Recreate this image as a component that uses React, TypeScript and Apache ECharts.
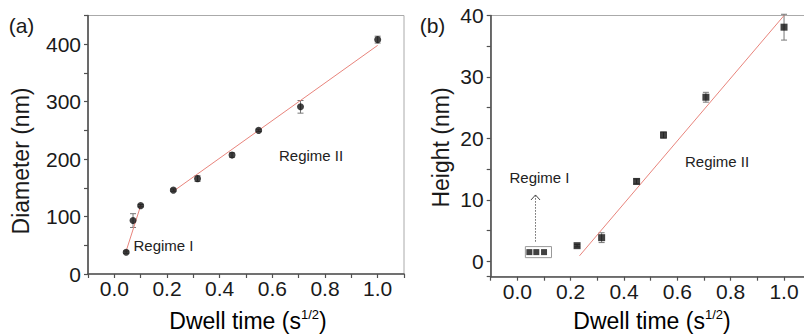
import React, { useEffect, useRef } from "react";
import * as echarts from "echarts";

// ---- data ----
const dwellA = [0.045, 0.071, 0.1, 0.224, 0.316, 0.447, 0.548, 0.707, 1.0];
const diameter = [38, 93, 119, 146, 166, 207, 250, 291, 408];
const diameterErr = [2, 12, 2, 2, 5, 4, 2, 11, 6];

const dwellB1 = [0.045, 0.071, 0.1];
const heightB1 = [1.5, 1.5, 1.5];

const dwellB2 = [0.224, 0.316, 0.447, 0.548, 0.707, 1.0];
const heightB2 = [2.55, 3.85, 13.0, 20.55, 26.7, 38.1];
const heightB2Err = [0.2, 0.8, 0.4, 0.5, 0.8, 2.1];

const fitA1 = [[0.045, 40], [0.1, 119]];
const fitA2 = [[0.224, 144], [1.0, 398]];
const fitB = [[0.233, 0.9], [1.0, 40]];

const xTickLabels = ["0.0", "0.2", "0.4", "0.6", "0.8", "1.0"];
const yTickLabelsA = ["0", "100", "200", "300", "400"];
const yTickLabelsB = ["0", "10", "20", "30", "40"];

const arrowB = [[0.068, 3.2, 10.8]];
const boxB = [[0.03, 2.4], [0.128, 0.6]];

const FONT = "Liberation Sans, Arial, sans-serif";
const AXIS_COLOR = "#505050";
const TEXT_COLOR = "#1a1a1a";
const FIT_COLOR = "#e8847c";

function xLabel(v: number) {
  const k = Math.round(v * 10);
  if (k < 0 || k % 2 !== 0) return "";
  const s = (k / 10).toFixed(1);
  return xTickLabels.includes(s) ? s : "";
}

function yLabelA(v: number) {
  const s = String(Math.round(v));
  return Math.round(v) % 100 === 0 && yTickLabelsA.includes(s) ? s : "";
}
function yLabelB(v: number) {
  const r = Math.round(v * 100) / 100;
  const s = String(r);
  return Number.isInteger(r) && r % 10 === 0 && yTickLabelsB.includes(s) ? s : "";
}

function errRender(params: any, api: any) {
  const x = api.value(0);
  const lo = api.value(1);
  const hi = api.value(2);
  const p1 = api.coord([x, hi]);
  const p2 = api.coord([x, lo]);
  const w = 3;
  const st = { stroke: "#777", lineWidth: 1 };
  return {
    type: "group",
    children: [
      { type: "line", shape: { x1: p1[0], y1: p1[1], x2: p2[0], y2: p2[1] }, style: st },
      { type: "line", shape: { x1: p1[0] - w, y1: p1[1], x2: p1[0] + w, y2: p1[1] }, style: st },
      { type: "line", shape: { x1: p2[0] - w, y1: p2[1], x2: p2[0] + w, y2: p2[1] }, style: st },
    ],
  };
}

function arrowRender(params: any, api: any) {
  const x = api.value(0);
  const p0 = api.coord([x, api.value(1)]);
  const p1 = api.coord([x, api.value(2)]);
  return {
    type: "group",
    children: [
      {
        type: "line",
        shape: { x1: p0[0], y1: p0[1], x2: p1[0], y2: p1[1] },
        style: { stroke: "#666", lineWidth: 1, lineDash: [1.5, 1.5] },
      },
      {
        type: "polyline",
        shape: { points: [[p1[0] - 4.5, p1[1] + 5], [p1[0], p1[1]], [p1[0] + 4.5, p1[1] + 5]] },
        style: { stroke: "#444", lineWidth: 1, fill: "none" },
      },
    ],
  };
}

function xAxisCfg(gridIndex: number) {
  return {
    type: "value",
    gridIndex,
    min: -0.1,
    max: 1.1,
    interval: 0.1,
    axisLine: { show: true, onZero: false, lineStyle: { color: AXIS_COLOR, width: 1.6 } },
    axisTick: { show: true, inside: false, length: 4, lineStyle: { color: AXIS_COLOR, width: 1.2 } },
    splitLine: { show: false },
    axisLabel: {
      formatter: xLabel,
      fontSize: 21,
      fontFamily: FONT,
      color: TEXT_COLOR,
      margin: 4,
      showMinLabel: true,
      showMaxLabel: true,
    },
  };
}

export default function App() {
  const ref = useRef<HTMLDivElement>(null);
  useEffect(() => {
    document.body.style.margin = "0";
    if (!ref.current) return;
    const chart = echarts.init(ref.current, undefined, { renderer: "svg" });
    const titleStyle = { fontSize: 23, fontFamily: FONT, fill: TEXT_COLOR };
    const xTitle = (cx: number) => ({
      type: "text",
      x: cx,
      y: 321,
      style: {
        text: "{n|Dwell time (s}{sup|1/2}{n|)}",
        align: "center",
        verticalAlign: "middle",
        rich: {
          n: { fontSize: 23, fontFamily: FONT, color: TEXT_COLOR, lineHeight: 26, verticalAlign: "middle" },
          sup: { fontSize: 13, fontFamily: FONT, color: TEXT_COLOR, lineHeight: 13, verticalAlign: "top" },
        },
      },
    });
    const regime = (x: number, y: number, t: string) => ({
      type: "text",
      x,
      y,
      style: { text: t, fontSize: 15, fontFamily: FONT, fill: "#222", align: "left", verticalAlign: "middle" },
    });
    chart.setOption({
      animation: false,
      grid: [
        { left: 88, top: 15.5, width: 316, height: 258.5, show: true, borderColor: "#aaa", borderWidth: 1, backgroundColor: "transparent", containLabel: false, outerBoundsMode: "none" },
        { left: 490.7, top: 15.5, width: 320, height: 261.2, show: true, borderColor: "#aaa", borderWidth: 1, backgroundColor: "transparent", containLabel: false, outerBoundsMode: "none" },
      ],
      xAxis: [xAxisCfg(0), xAxisCfg(1)],
      yAxis: [
        {
          type: "value",
          gridIndex: 0,
          min: 0,
          max: 450,
          interval: 50,
          axisLine: { show: true, onZero: false, lineStyle: { color: AXIS_COLOR, width: 1.6 } },
          axisTick: { show: true, inside: false, length: 4, lineStyle: { color: AXIS_COLOR, width: 1.2 } },
          splitLine: { show: false },
          axisLabel: { formatter: yLabelA, fontSize: 21, fontFamily: FONT, color: TEXT_COLOR, margin: 7 },
        },
        {
          type: "value",
          gridIndex: 1,
          min: -2.5,
          max: 40,
          splitNumber: 9,
          axisLine: { show: true, onZero: false, lineStyle: { color: AXIS_COLOR, width: 1.6 } },
          axisTick: { show: true, inside: false, length: 4, lineStyle: { color: AXIS_COLOR, width: 1.2 } },
          splitLine: { show: false },
          axisLabel: { formatter: yLabelB, fontSize: 21, fontFamily: FONT, color: TEXT_COLOR, margin: 7 },
        },
      ],
      series: [
        {
          type: "custom",
          xAxisIndex: 0,
          yAxisIndex: 0,
          renderItem: errRender,
          encode: { x: 0, y: [1, 2] },
          z: 1,
          data: dwellA.map((x, i) => [x, diameter[i] - diameterErr[i], diameter[i] + diameterErr[i]]),
        },
        {
          type: "line",
          xAxisIndex: 0,
          yAxisIndex: 0,
          data: fitA1,
          symbol: "none",
          lineStyle: { color: FIT_COLOR, width: 1 },
          z: 2,
        },
        {
          type: "line",
          xAxisIndex: 0,
          yAxisIndex: 0,
          data: fitA2,
          symbol: "none",
          lineStyle: { color: FIT_COLOR, width: 1 },
          z: 2,
        },
        {
          type: "scatter",
          xAxisIndex: 0,
          yAxisIndex: 0,
          symbol: "circle",
          symbolSize: 7,
          itemStyle: { color: "#111" },
          data: dwellA.map((x, i) => [x, diameter[i]]),
          z: 3,
        },
        {
          type: "custom",
          xAxisIndex: 1,
          yAxisIndex: 1,
          renderItem: errRender,
          encode: { x: 0, y: [1, 2] },
          z: 1,
          data: dwellB2.map((x, i) => [x, heightB2[i] - heightB2Err[i], heightB2[i] + heightB2Err[i]]),
        },
        {
          type: "line",
          xAxisIndex: 1,
          yAxisIndex: 1,
          data: fitB,
          symbol: "none",
          lineStyle: { color: FIT_COLOR, width: 1 },
          z: 2,
        },
        {
          type: "scatter",
          xAxisIndex: 1,
          yAxisIndex: 1,
          symbol: "rect",
          symbolSize: 7,
          itemStyle: { color: "#111" },
          data: dwellB2.map((x, i) => [x, heightB2[i]]),
          z: 3,
        },
        {
          type: "scatter",
          xAxisIndex: 1,
          yAxisIndex: 1,
          symbol: "rect",
          symbolSize: 6,
          itemStyle: { color: "#111" },
          data: dwellB1.map((x, i) => [x, heightB1[i]]),
          z: 3,
          markArea: {
            silent: true,
            itemStyle: { color: "rgba(0,0,0,0)", borderColor: "#999", borderWidth: 1 },
            data: [[{ coord: boxB[0] }, { coord: boxB[1] }]],
          },
        },
        {
          type: "custom",
          xAxisIndex: 1,
          yAxisIndex: 1,
          renderItem: arrowRender,
          encode: { x: 0, y: [1, 2] },
          z: 2,
          data: arrowB,
        },
      ],
      graphic: [
        { type: "text", x: 21.5, y: 25, style: { text: "(a)", fontSize: 21, fontFamily: FONT, fill: TEXT_COLOR, align: "center", verticalAlign: "middle" } },
        { type: "text", x: 432.5, y: 25, style: { text: "(b)", fontSize: 21, fontFamily: FONT, fill: TEXT_COLOR, align: "center", verticalAlign: "middle" } },
        { type: "text", x: 21, y: 161, rotation: Math.PI / 2, style: { ...titleStyle, text: "Diameter (nm)", align: "center", verticalAlign: "middle" } },
        { type: "text", x: 441, y: 147.5, rotation: Math.PI / 2, style: { ...titleStyle, text: "Height (nm)", align: "center", verticalAlign: "middle" } },
        xTitle(248),
        xTitle(652),
        regime(133.5, 245.7, "Regime I"),
        regime(279, 155, "Regime II"),
        regime(509.5, 177.7, "Regime I"),
        regime(685, 161.7, "Regime II"),
      ],
    });
    return () => chart.dispose();
  }, []);
  return <div ref={ref} style={{ width: 804, height: 334 }} />;
}
